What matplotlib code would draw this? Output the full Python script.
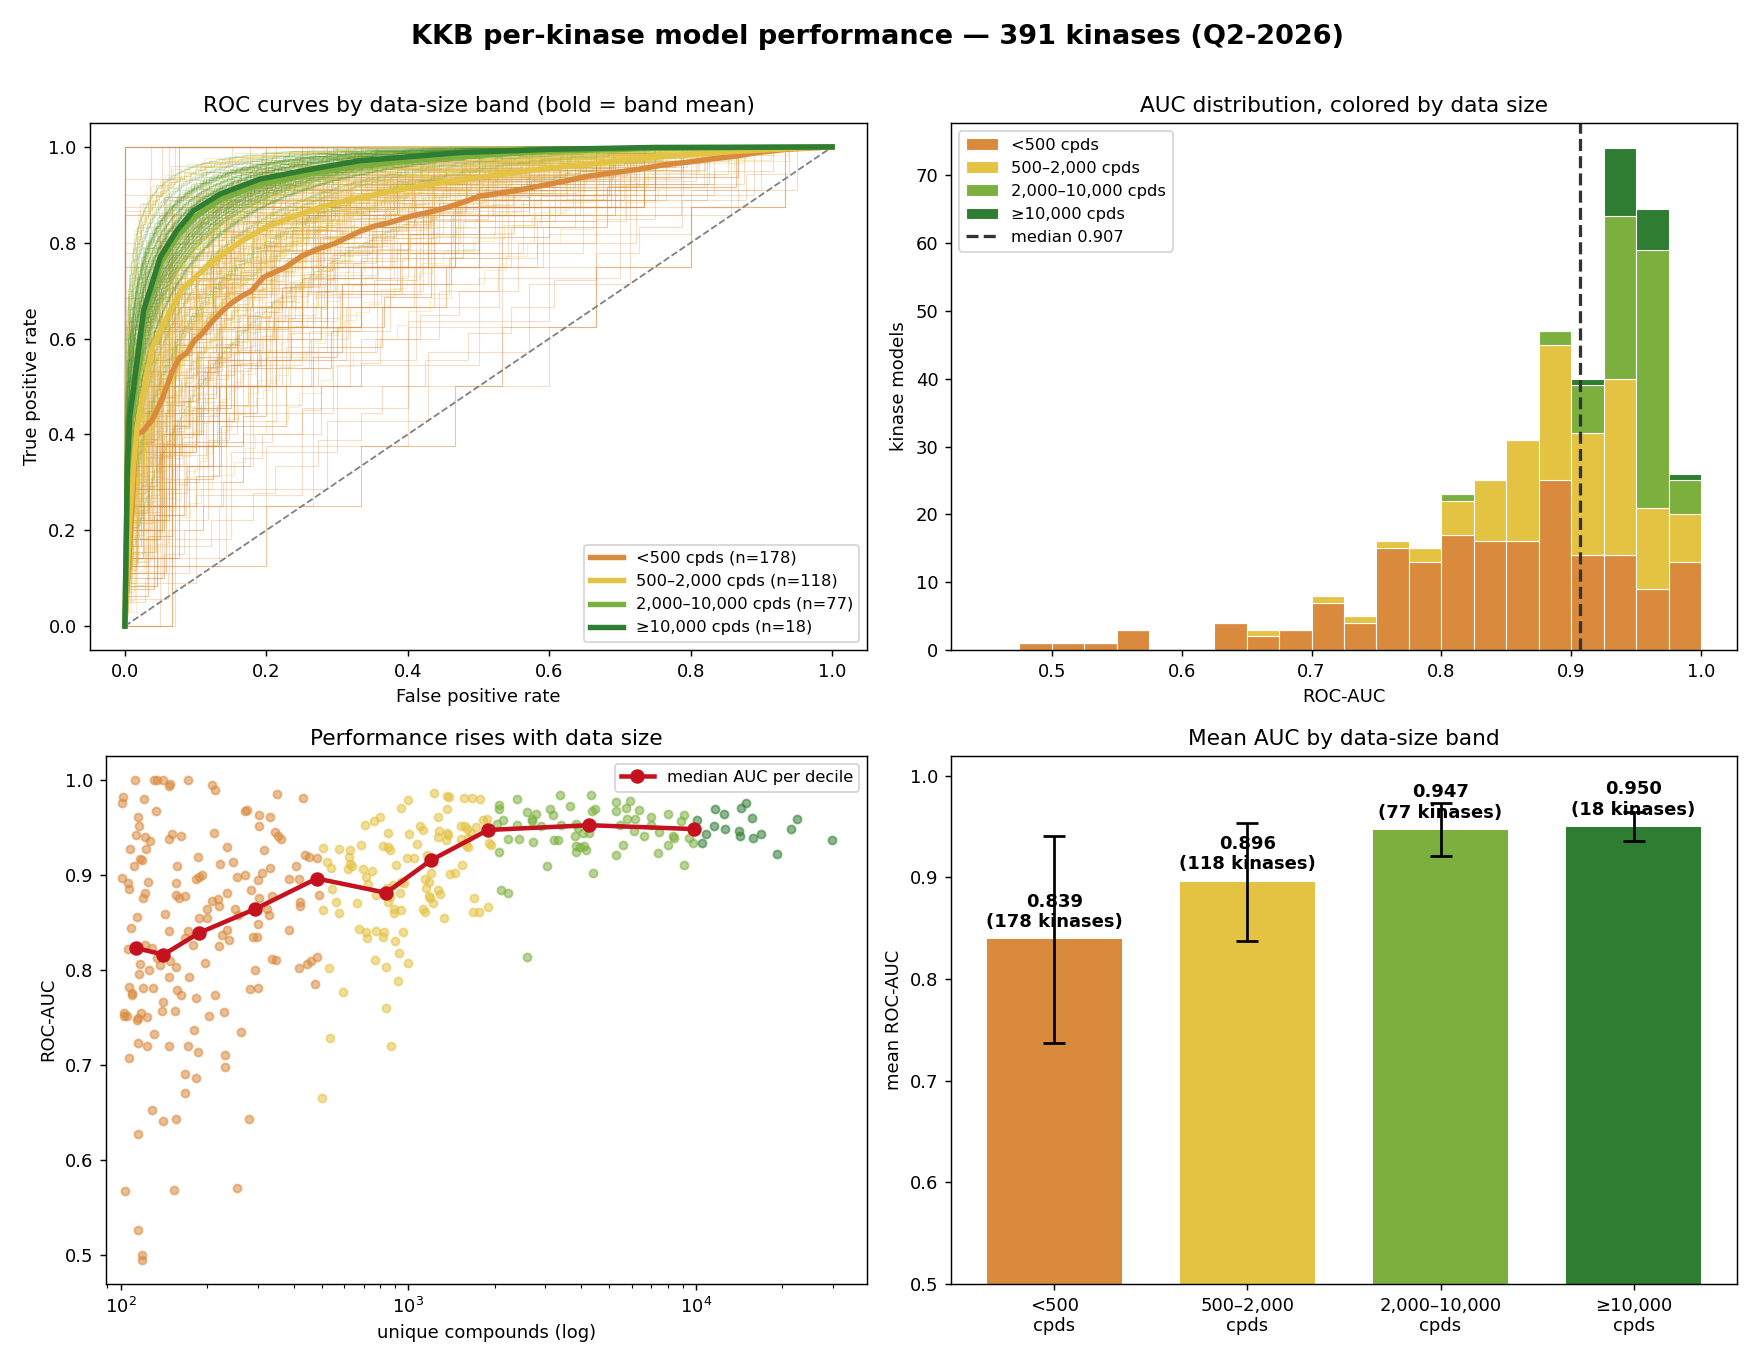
"""Four-panel summary of per-kinase model performance in the KKB (Q2-2026)."""

from __future__ import annotations

import math

import matplotlib

matplotlib.use("Agg")
import matplotlib.pyplot as plt
import numpy as np

BAND_NAMES = ["<500", "500–2,000", "2,000–10,000", "≥10,000"]
BAND_COLORS = ["#d98a3d", "#e4c242", "#7cb03e", "#2e7d32"]
BAND_N = [178, 118, 77, 18]

# per-kinase points: unique compounds, ROC-AUC
ORANGE_CPDS = [
    112, 131, 134, 141, 149, 147, 172, 208, 213, 102, 101, 121, 350, 430, 133, 270, 276, 304, 330, 115,
    116, 304, 345, 353, 362, 113, 122, 127, 151, 147, 162, 212, 108, 123, 186, 235, 316, 117, 119, 111,
    157, 222, 245, 437, 451, 482, 406, 331, 311, 271, 254, 188, 192, 183, 156, 125, 101, 106, 107, 122,
    120, 156, 160, 167, 234, 284, 300, 303, 337, 384, 416, 421, 421, 490, 208, 218, 220, 200, 249, 256,
    322, 329, 143, 114, 188, 199, 109, 147, 172, 167, 234, 226, 239, 301, 288, 298, 386, 220, 179, 106,
    122, 129, 134, 137, 149, 156, 117, 126, 116, 196, 336, 348, 418, 445, 459, 482, 294, 147, 173, 475,
    107, 110, 110, 120, 130, 140, 157, 162, 183, 213, 282, 301, 103, 103, 105, 118, 114, 115, 124, 139,
    154, 203, 229, 131, 180, 263, 115, 124, 147, 171, 186, 231, 231, 107, 167, 183, 167, 129, 141, 156,
    280, 115, 104, 153, 254, 115, 119, 119,
]
ORANGE_AUC = [
    1.000, 1.000, 1.000, 1.000, 0.995, 0.993, 1.000, 0.994, 0.989, 0.982, 0.975, 0.980, 0.985, 0.981, 0.967, 0.967, 0.968, 0.963, 0.961, 0.961,
    0.951, 0.951, 0.945, 0.941, 0.938, 0.942, 0.940, 0.935, 0.943, 0.937, 0.941, 0.944, 0.927, 0.927, 0.919, 0.929, 0.926, 0.917, 0.915, 0.909,
    0.909, 0.911, 0.913, 0.921, 0.919, 0.918, 0.909, 0.907, 0.902, 0.900, 0.898, 0.898, 0.900, 0.895, 0.891, 0.892, 0.897, 0.891, 0.885, 0.881,
    0.875, 0.879, 0.875, 0.878, 0.881, 0.884, 0.894, 0.876, 0.878, 0.896, 0.896, 0.871, 0.867, 0.879, 0.872, 0.874, 0.867, 0.864, 0.864, 0.858,
    0.864, 0.858, 0.859, 0.856, 0.855, 0.854, 0.844, 0.841, 0.841, 0.833, 0.842, 0.837, 0.831, 0.848, 0.834, 0.835, 0.842, 0.825, 0.826, 0.822,
    0.826, 0.823, 0.812, 0.805, 0.809, 0.803, 0.806, 0.800, 0.796, 0.807, 0.811, 0.810, 0.802, 0.806, 0.809, 0.814, 0.800, 0.792, 0.793, 0.785,
    0.782, 0.776, 0.774, 0.781, 0.781, 0.766, 0.779, 0.774, 0.770, 0.774, 0.780, 0.781, 0.755, 0.751, 0.751, 0.755, 0.747, 0.749, 0.750, 0.757,
    0.757, 0.752, 0.756, 0.733, 0.737, 0.735, 0.723, 0.720, 0.720, 0.720, 0.714, 0.711, 0.698, 0.707, 0.691, 0.686, 0.671, 0.653, 0.641, 0.643,
    0.643, 0.627, 0.568, 0.569, 0.571, 0.527, 0.500, 0.495,
]
YELLOW_CPDS = [
    506, 575, 627, 686, 708, 623, 630, 618, 640, 520, 538, 697, 716, 727, 544, 563, 574, 506, 664, 673,
    716, 720, 531, 594, 534, 502, 761, 798, 944, 999, 1229, 1364, 1386, 1364, 1269, 1563, 1666, 1776, 1824, 1878,
    1530, 1575, 1601, 1720, 1648, 1096, 1126, 1276, 1368, 1375, 1266, 1353, 1007, 851, 820, 853, 867, 1073, 1522, 1618,
    1584, 1609, 1909, 1945, 1162, 991, 1048, 1538, 910, 751, 775, 844, 867, 886, 942, 970, 853, 937, 1144, 1181,
    1200, 1156, 1181, 1187, 1266, 1286, 1220, 1693, 1394, 1458, 1126, 1144, 895, 895, 947, 1331, 1675, 1762, 1893, 960,
    771, 822, 818, 900, 930, 767, 838, 999, 922, 838, 872,
]
YELLOW_AUC = [
    0.928, 0.927, 0.926, 0.931, 0.952, 0.919, 0.911, 0.906, 0.909, 0.913, 0.907, 0.906, 0.898, 0.890, 0.885, 0.871, 0.860, 0.863, 0.870, 0.843,
    0.840, 0.833, 0.802, 0.777, 0.728, 0.665, 0.956, 0.961, 0.970, 0.978, 0.986, 0.983, 0.982, 0.969, 0.961, 0.981, 0.981, 0.980, 0.958, 0.959,
    0.951, 0.951, 0.948, 0.950, 0.944, 0.951, 0.947, 0.946, 0.944, 0.942, 0.940, 0.936, 0.943, 0.944, 0.930, 0.929, 0.926, 0.932, 0.938, 0.939,
    0.931, 0.929, 0.933, 0.931, 0.921, 0.918, 0.918, 0.910, 0.910, 0.904, 0.879, 0.886, 0.877, 0.889, 0.892, 0.891, 0.871, 0.881, 0.895, 0.892,
    0.902, 0.886, 0.878, 0.876, 0.884, 0.880, 0.870, 0.876, 0.901, 0.902, 0.864, 0.861, 0.864, 0.860, 0.863, 0.855, 0.861, 0.861, 0.866, 0.840,
    0.841, 0.840, 0.834, 0.830, 0.818, 0.810, 0.803, 0.807, 0.788, 0.760, 0.720,
]
GREEN_CPDS = [
    2062, 2073, 2388, 2135, 2040, 2579, 2772, 2698, 2684, 3108, 3184, 3357, 3637, 4336, 4348, 4454, 5283, 5283, 2222, 2426,
    2713, 2062, 2388, 2900, 3402, 3837, 3888, 4056, 4267, 3796, 3201, 3305, 3837, 3940, 4068, 3816, 4155, 5283, 3034, 4383,
    2101, 2228, 2585, 5720, 5892, 6332, 5768, 6166, 6968, 7985, 9073, 8858, 5469, 6116, 6626, 6988, 7470, 8311, 8423, 9495,
    9750, 5602, 7372, 7985, 9073,
]
GREEN_AUC = [
    0.973, 0.969, 0.980, 0.957, 0.953, 0.966, 0.964, 0.959, 0.956, 0.969, 0.963, 0.984, 0.972, 0.984, 0.967, 0.969, 0.976, 0.967, 0.938, 0.937,
    0.934, 0.924, 0.952, 0.951, 0.952, 0.953, 0.949, 0.944, 0.944, 0.941, 0.936, 0.936, 0.930, 0.929, 0.930, 0.924, 0.926, 0.921, 0.909, 0.902,
    0.884, 0.881, 0.813, 0.970, 0.977, 0.968, 0.959, 0.959, 0.961, 0.964, 0.963, 0.956, 0.952, 0.946, 0.941, 0.952, 0.945, 0.941, 0.939, 0.939,
    0.933, 0.931, 0.923, 0.931, 0.910,
]
DARK_CPDS = [10100, 11630, 12490, 14390, 14900, 15620, 22400, 21350, 11530, 12590, 10820, 14080, 14200, 15840, 16800, 10480, 19090, 29630]
DARK_AUC = [0.958, 0.969, 0.964, 0.970, 0.975, 0.960, 0.959, 0.948, 0.951, 0.948, 0.943, 0.946, 0.941, 0.939, 0.943, 0.933, 0.922, 0.936]

# median AUC per compound-count decile
DECILE_CPDS = [113, 141, 188, 294, 481, 838, 1197, 1893, 4267, 9830]
DECILE_AUC = [0.823, 0.816, 0.839, 0.864, 0.896, 0.881, 0.915, 0.947, 0.952, 0.948]

# band-mean ROC curves
ORANGE_MEAN_FPR = [0, 0.016, 0.0245, 0.0385, 0.0525, 0.0665, 0.077, 0.0875, 0.098, 0.1085, 0.1225, 0.1366, 0.1506, 0.1646,
                   0.1786, 0.196, 0.2066, 0.2276, 0.2486, 0.2696, 0.2976, 0.3186, 0.3326, 0.3536, 0.3746, 0.4027, 0.4307,
                   0.4587, 0.4867, 0.5007, 0.5287, 0.5567, 0.5847, 0.6197, 0.6548, 0.6898, 0.7248, 0.7598, 0.7948, 0.8298,
                   0.8648, 0.8929, 0.9349, 1.0]
ORANGE_MEAN_TPR = [0, 0.401, 0.405, 0.430, 0.473, 0.530, 0.559, 0.570, 0.595, 0.609, 0.634, 0.656, 0.674, 0.688,
                   0.699, 0.728, 0.735, 0.749, 0.771, 0.785, 0.799, 0.814, 0.824, 0.835, 0.842, 0.855, 0.864,
                   0.875, 0.889, 0.897, 0.903, 0.910, 0.918, 0.928, 0.939, 0.946, 0.953, 0.962, 0.968, 0.975,
                   0.981, 0.988, 0.995, 1.0]
YELLOW_MEAN_FPR = [0, 0.0035, 0.007, 0.012, 0.0175, 0.0245, 0.0385, 0.0595, 0.0805, 0.1015, 0.1296, 0.1646, 0.1996, 0.2346,
                   0.2696, 0.3046, 0.3396, 0.3746, 0.4447, 0.5147, 0.5847, 0.6548, 0.7248, 0.7948, 0.8648, 0.9349, 1.0]
YELLOW_MEAN_TPR = [0, 0.115, 0.222, 0.330, 0.416, 0.473, 0.581, 0.645, 0.703, 0.731, 0.767, 0.803, 0.832, 0.853,
                   0.871, 0.885, 0.896, 0.907, 0.925, 0.939, 0.953, 0.964, 0.975, 0.984, 0.991, 0.996, 1.0]
GREEN_MEAN_FPR = [0, 0.0035, 0.007, 0.0127, 0.0267, 0.05, 0.0736, 0.097, 0.135, 0.191, 0.261, 0.331, 0.472, 0.6, 0.75, 1.0]
GREEN_MEAN_TPR = [0, 0.300, 0.410, 0.480, 0.640, 0.755, 0.812, 0.852, 0.890, 0.922, 0.943, 0.961, 0.980, 0.991, 0.997, 1.0]
DARK_MEAN_FPR = GREEN_MEAN_FPR
DARK_MEAN_TPR = [0, 0.330, 0.440, 0.500, 0.660, 0.770, 0.826, 0.867, 0.902, 0.933, 0.953, 0.971, 0.988, 0.995, 0.999, 1.0]

# stacked AUC histogram, bins of 0.025 from 0.45 to 1.0
HIST_EDGES_START = 0.45
HIST_BIN_WIDTH = 0.025
HIST_ORANGE = [0, 1, 1, 1, 3, 0, 0, 4, 2, 3, 7, 4, 15, 13, 17, 16, 16, 25, 14, 14, 9, 13]
HIST_YELLOW = [0, 0, 0, 0, 0, 0, 0, 0, 1, 0, 1, 1, 1, 2, 5, 9, 15, 20, 18, 26, 12, 7]
HIST_GREEN = [0, 0, 0, 0, 0, 0, 0, 0, 0, 0, 0, 0, 0, 0, 1, 0, 0, 2, 7, 24, 38, 5]
HIST_DARK = [0, 0, 0, 0, 0, 0, 0, 0, 0, 0, 0, 0, 0, 0, 0, 0, 0, 0, 1, 10, 6, 1]
MEDIAN_AUC = 0.907

# mean +/- sd AUC per band
BAND_MEAN = [0.839, 0.896, 0.947, 0.950]
BAND_SD = [0.102, 0.058, 0.026, 0.014]

Z_GRID = np.linspace(-8.0, 8.0, 4001)


def phi(z):
    """Standard normal CDF."""

    return 0.5 * (1.0 + np.vectorize(math.erf)(np.asarray(z) / math.sqrt(2.0)))


CDF_GRID = phi(Z_GRID)


def phi_inv(p):
    """Inverse standard normal CDF by table lookup."""

    return np.interp(p, CDF_GRID, Z_GRID)


def staircase_roc(auc: float, n_cpds: float) -> tuple[np.ndarray, np.ndarray]:
    """Binormal ROC for one kinase's AUC, stepped to a test split of its size."""

    d = math.sqrt(2.0) * float(phi_inv(min(auc, 0.999)))
    n_pos = int(max(3, min(300, round(0.07 * n_cpds))))
    n_neg = int(max(4, min(600, round(0.13 * n_cpds))))
    fpr = np.arange(n_neg + 1) / n_neg
    mid = np.clip((np.arange(n_neg) + 0.5) / n_neg, 1e-6, 1 - 1e-6)
    tpr = np.round(phi(d + phi_inv(mid)) * n_pos) / n_pos
    tpr = np.append(tpr, 1.0)
    return np.insert(fpr, 0, 0.0), np.insert(tpr, 0, 0.0)


def plot_roc(ax) -> None:
    cpds = [ORANGE_CPDS, YELLOW_CPDS, GREEN_CPDS, DARK_CPDS]
    aucs = [ORANGE_AUC, YELLOW_AUC, GREEN_AUC, DARK_AUC]
    for color, band_cpds, band_auc in zip(BAND_COLORS, cpds, aucs):
        for n_cpds, auc in zip(band_cpds, band_auc):
            x, y = staircase_roc(auc, n_cpds)
            ax.plot(x, y, color=color, lw=0.6, alpha=0.28, drawstyle="steps-post")

    ax.plot([0, 1], [0, 1], ls="--", color="gray", lw=1.0)
    means = [
        (ORANGE_MEAN_FPR, ORANGE_MEAN_TPR),
        (YELLOW_MEAN_FPR, YELLOW_MEAN_TPR),
        (GREEN_MEAN_FPR, GREEN_MEAN_TPR),
        (DARK_MEAN_FPR, DARK_MEAN_TPR),
    ]
    for (fpr, tpr), color, name, n in zip(means, BAND_COLORS, BAND_NAMES, BAND_N):
        ax.plot(fpr, tpr, color=color, lw=3.0, label=f"{name} cpds (n={n})", zorder=5)

    ax.set_title("ROC curves by data-size band (bold = band mean)")
    ax.set_xlabel("False positive rate")
    ax.set_ylabel("True positive rate")
    ax.legend(loc="lower right", fontsize=9)


def plot_histogram(ax) -> None:
    n_bins = len(HIST_ORANGE)
    left = HIST_EDGES_START + HIST_BIN_WIDTH * np.arange(n_bins)
    bottom = np.zeros(n_bins)
    handles = []
    for counts, color, name in zip([HIST_ORANGE, HIST_YELLOW, HIST_GREEN, HIST_DARK], BAND_COLORS, BAND_NAMES):
        counts = np.asarray(counts, dtype=float)
        bars = ax.bar(left, counts, width=HIST_BIN_WIDTH, bottom=bottom, align="edge", color=color,
                      edgecolor="white", linewidth=0.6, label=f"{name} cpds")
        handles.append(bars)
        bottom += counts
    med = ax.axvline(MEDIAN_AUC, color="#333333", ls="--", lw=1.8, label=f"median {MEDIAN_AUC:.3f}")
    handles.append(med)
    ax.set_title("AUC distribution, colored by data size")
    ax.set_xlabel("ROC-AUC")
    ax.set_ylabel("kinase models")
    ax.legend(handles=handles, loc="upper left", fontsize=9)


def plot_scatter(ax) -> None:
    cpds = [ORANGE_CPDS, YELLOW_CPDS, GREEN_CPDS, DARK_CPDS]
    aucs = [ORANGE_AUC, YELLOW_AUC, GREEN_AUC, DARK_AUC]
    for color, band_cpds, band_auc in zip(BAND_COLORS, cpds, aucs):
        ax.scatter(band_cpds, band_auc, s=20, color=color, alpha=0.55)
    ax.plot(DECILE_CPDS, DECILE_AUC, color="#c4121e", lw=2.5, marker="o", ms=7, label="median AUC per decile", zorder=5)
    ax.set_xscale("log")
    ax.set_xlim(89, 39500)
    ax.set_title("Performance rises with data size")
    ax.set_xlabel("unique compounds (log)")
    ax.set_ylabel("ROC-AUC")
    ax.legend(loc="upper right", fontsize=9)


def plot_band_means(ax) -> None:
    x = np.arange(len(BAND_NAMES))
    ax.bar(x, BAND_MEAN, width=0.7, color=BAND_COLORS, yerr=BAND_SD, capsize=6,
           error_kw={"elinewidth": 1.5, "capthick": 1.5})
    for xi, mean, n in zip(x, BAND_MEAN, BAND_N):
        ax.text(xi, mean + 0.008, f"{mean:.3f}\n({n} kinases)", ha="center", va="bottom",
                fontsize=10, fontweight="bold")
    ax.set_xticks(x)
    ax.set_xticklabels([f"{name}\ncpds" for name in BAND_NAMES])
    ax.set_ylim(0.5, 1.02)
    ax.set_title("Mean AUC by data-size band")
    ax.set_ylabel("mean ROC-AUC")


def main() -> None:
    fig = plt.figure(figsize=(13.5, 10.5), dpi=130)
    ax_roc = fig.add_axes([0.051, 0.5238, 0.4433, 0.3861])
    ax_hist = fig.add_axes([0.5419, 0.5238, 0.4478, 0.3861])
    ax_sc = fig.add_axes([0.0604, 0.0593, 0.4339, 0.3872])
    ax_bar = fig.add_axes([0.5419, 0.0593, 0.4478, 0.3872])

    plot_roc(ax_roc)
    plot_histogram(ax_hist)
    plot_scatter(ax_sc)
    plot_band_means(ax_bar)

    fig.suptitle("KKB per-kinase model performance — 391 kinases (Q2-2026)", fontsize=15,
                 fontweight="bold", y=0.973, va="center")
    fig.savefig("out.png", dpi=130)
    plt.close(fig)


if __name__ == "__main__":
    main()
